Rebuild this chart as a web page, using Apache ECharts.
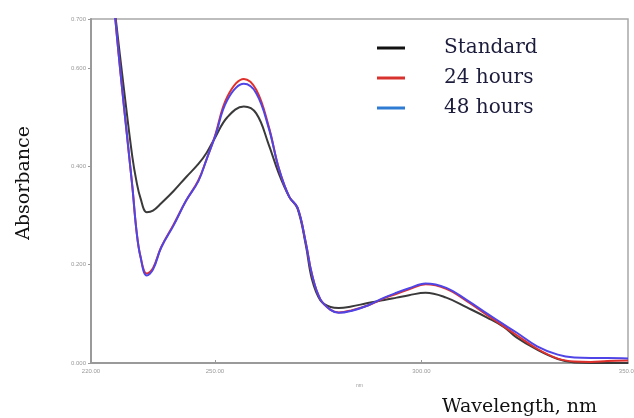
<!DOCTYPE html>
<html>
<head>
  <meta charset="utf-8">
  <title>Absorbance spectra</title>
  <style>
    html, body { margin: 0; padding: 0; background: #fff; }
    #chart { width: 634px; height: 418px; }
  </style>
</head>
<body>
  <div id="chart"></div>
  <script src="https://cdn.jsdelivr.net/npm/echarts@6/dist/echarts.min.js"></script>
  <script>
    // wavelengths (nm), shared by all three scans
    const wavelength = [225, 226, 228, 230, 231, 232, 233.5, 235, 237, 240, 243, 246, 248, 250, 253, 257,
      260, 263, 265.5, 268, 270, 272, 273.5, 275.5, 278, 280, 283, 287, 291, 294, 297, 301,
      306, 311, 316, 320, 323, 328, 333, 337, 341, 345, 350];

    const standard = [0.78, 0.70, 0.556, 0.42, 0.37, 0.335, 0.307, 0.31, 0.325, 0.35, 0.378, 0.405, 0.428, 0.458, 0.50, 0.522,
      0.508, 0.445, 0.385, 0.338, 0.314, 0.24, 0.17, 0.128, 0.114, 0.112, 0.115, 0.122, 0.128, 0.133, 0.138, 0.143,
      0.133, 0.113, 0.092, 0.073, 0.052, 0.027, 0.008, 0.001, 0, 0, 0];

    const hours24 = [0.80, 0.69, 0.52, 0.36, 0.27, 0.216, 0.182, 0.193, 0.236, 0.282, 0.33, 0.372, 0.415, 0.462, 0.542, 0.578,
      0.556, 0.482, 0.395, 0.338, 0.316, 0.245, 0.18, 0.13, 0.108, 0.103, 0.107, 0.117, 0.132, 0.141, 0.15, 0.160,
      0.151, 0.126, 0.097, 0.074, 0.057, 0.029, 0.009, 0.003, 0.002, 0.004, 0.005];

    const hours48 = [0.80, 0.69, 0.52, 0.36, 0.27, 0.215, 0.178, 0.19, 0.235, 0.28, 0.33, 0.37, 0.415, 0.46, 0.535, 0.568,
      0.549, 0.479, 0.395, 0.338, 0.316, 0.245, 0.18, 0.13, 0.108, 0.102, 0.106, 0.117, 0.133, 0.143, 0.152, 0.162,
      0.153, 0.128, 0.10, 0.078, 0.062, 0.034, 0.017, 0.011, 0.01, 0.01, 0.009];

    const xTicks = [220, 250, 300, 350];
    const yTicks = [0, 0.2, 0.4, 0.6, 0.7];

    const names = ['Standard', '24 hours', '48 hours'];
    const lineColors = ['#3a3a3a', '#e0302c', '#4f45e6'];
    const legendColors = ['#111111', '#d8322e', '#2f7ad2'];

    const pairs = (ys) => wavelength.map((w, i) => [w, ys[i]]);

    const chart = echarts.init(document.getElementById('chart'));

    chart.setOption({
      animation: false,
      grid: {
        left: 91, right: 6, top: 19, bottom: 55,
        outerBoundsMode: 'none', containLabel: false,
        show: true, borderColor: '#a8a8a8', borderWidth: 1.5
      },
      legend: {
        orient: 'vertical',
        left: 372, top: 33,
        itemWidth: 28, itemHeight: 3, itemGap: 10,
        icon: 'rect',
        textStyle: {
          fontFamily: 'DejaVu Serif', fontSize: 20, color: '#1c1c3c',
          lineHeight: 20, padding: [0, 0, 0, 34]
        },
        data: names.map((n, i) => ({ name: n, itemStyle: { color: legendColors[i] } }))
      },
      xAxis: {
        type: 'value', min: 220, max: 350,
        name: 'nm', nameLocation: 'middle', nameGap: 20,
        nameTextStyle: { fontSize: 5, color: '#999' },
        axisLine: { lineStyle: { color: '#9a9a9a', width: 2 } },
        axisTick: { inside: true, length: 3, lineStyle: { color: '#999' }, customValues: [250, 300] },
        axisLabel: {
          fontSize: 6, color: '#999', margin: 5, showMaxLabel: true,
          customValues: xTicks, formatter: (v) => v.toFixed(2)
        },
        splitLine: { show: false }
      },
      yAxis: {
        type: 'value', min: 0, max: 0.7,
        axisLine: { show: true, lineStyle: { color: '#9a9a9a', width: 2 } },
        axisTick: { show: true, length: 3, lineStyle: { color: '#999' }, customValues: yTicks },
        axisLabel: {
          fontSize: 6, color: '#999', margin: 5,
          customValues: yTicks, formatter: (v) => v.toFixed(3)
        },
        splitLine: { show: false }
      },
      series: [standard, hours24, hours48].map((ys, i) => ({
        name: names[i],
        type: 'line',
        smooth: 0.4,
        showSymbol: false,
        clip: true,
        color: lineColors[i],
        lineStyle: { width: 2, color: lineColors[i] },
        data: pairs(ys)
      })),
      graphic: [
        {
          type: 'text', x: 24, y: 183, rotation: Math.PI / 2,
          style: {
            text: 'Absorbance', font: '19px "DejaVu Serif"', fill: '#111',
            align: 'center', verticalAlign: 'middle'
          }
        },
        {
          type: 'text', left: 442, top: 398,
          style: { text: 'Wavelength, nm', font: '19px "DejaVu Serif"', fill: '#111' }
        }
      ]
    });
  </script>
</body>
</html>
